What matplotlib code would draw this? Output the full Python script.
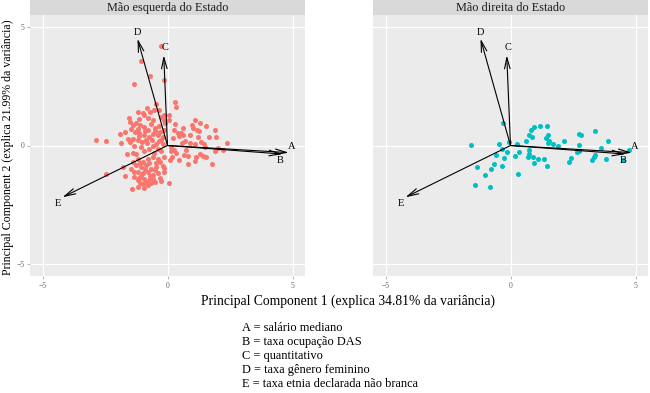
import matplotlib
matplotlib.use("Agg")
import matplotlib.pyplot as plt

plt.rcParams['font.family'] = ['Liberation Serif', 'DejaVu Serif']

# PC scores, left panel ("Mão esquerda do Estado")
esq_x = [-0.27, -1.06, -0.69, -1.33, -0.16, 0.31, 0.33, -2.87, -2.45, -1.9, -1.88, -2.45, -1.78,
         -1.69, -1.44, -1.2, 0.04,
         0.97, 1.1, 1.02, 1.16, 1.24, 1.54, 1.9, 1.94, 2.39, 2.23, 1.88, 1.76, 1.46, 1.33, 1.1, 0.89,
         0.59, 0.53, 0.4, 0.6, 0.27, 0.47, 0.73, 0.8, 0.64, 0.82, 1.12, 1.1, 1.3, 1.4, 1.49, 1.52,
         0.15, 0.13, 0.16,
         -1.56, -1.2, -0.84, -1.13, -0.93, -0.77, -0.6, -0.47, -0.33, -0.13, 0.04, 0.07, -0.16,
         -1.4, -1.09, -0.93, -0.77, -0.52, -0.33, -0.13, -1.29, -1.13, -0.96, -0.76, -0.6, -0.4,
         -0.27, -1.4, -1.6, -1.2, -1.02, -0.82, -0.64, -0.45, -0.2, -1.33, -1.06, -0.74, -0.4,
         -1.62, -1.4,
         -1.2, -1.0, -0.8, -0.6, -0.4, -0.13, -1.26, -1.06, -0.86, -0.66, -0.47, -0.2, -1.2, -1.0,
         -0.8, -0.6, -0.4, -0.13, -1.13, -0.93, -0.73, -0.5, -1.0, -0.8, -1.1, -1.33, -1.46, -1.4,
         -1.5, -1.25, -1.0, -0.7, -0.55, -0.25, -0.1, -1.45, -1.2, -0.65, -0.3, -0.2, -1.7, -0.9,
         -0.5, -1.15, -0.85, -0.35, -1.5, -0.6, -0.95, -0.25, -1.25, -0.55,
         -1.1, -0.75, -0.3, -0.9, -0.5, -1.05, -0.7, -0.3, -0.85, -0.65, -1.2, -0.95, -0.6, -0.15,
         -0.45, -1.35, -0.25, 0.1, 0.25, 0.2,
         0.3, 0.9, 0.7, 1.2, 0.35, 0.45, 1.3, 2.0, 1.65, 0.6]
esq_y = [4.18, 3.55, 2.92, 2.61, 2.75, 1.84, 1.63, 0.22, 0.17, 0.48, 0.11, -1.21, -0.9,
         -1.29, -1.82, -1.77, -1.56,
         0.88, 1.09, 0.72, 0.65, 0.62, 0.81, 0.67, 0.36, 0.11, -0.2, -0.24, -0.76, 0.06, 0.15, 0.06,
         0.11, 0.11, 0.53, 0.53, 0.43, 0.65, 0.39, -0.2, -0.43, -0.41, -0.76, -0.48, -0.67, -0.36,
         -0.45, -0.08, -0.5,
         -0.06, -0.25, -0.48,
         1.18, 1.42, 1.6, 1.11, 1.28, 1.18, 1.09, 1.74, 1.49, 1.28, 1.28, 1.07, 1.07,
         0.86, 0.88, 0.79, 0.67, 0.72, 0.81, 0.65, 0.58, 0.53, 0.43, 0.36, 0.48, 0.43,
         0.25, 0.29, 0.29, 0.22, 0.15, 0.11, 0.22, 0.06, 0.08, -0.01, -0.06, -0.13, -0.13,
         -0.34, -0.31,
         -0.59, -0.69, -0.59, -0.48, -0.59, -0.48, -0.83, -0.9, -0.83, -0.97, -0.9, -0.87, -1.11,
         -1.18, -1.11, -1.25, -1.18, -1.11, -1.39, -1.43, -1.46, -1.53, -1.64, -1.67, -1.57, -1.32,
         -0.97, -0.69,
         1.0, 0.95, 1.35, 1.4, 1.5, 1.2, 0.95, 0.7, 0.7, 0.9, 0.55, 0.35, 0.55, 0.6,
         0.62, 0.38, 0.25, 0.18, 0.15, 0.0, -0.25, -0.25, -0.35, -0.3,
         -0.75, -0.72, -0.7, -1.0, -1.05, -1.28, -1.3, -1.35, -1.55, -1.6, -1.45, -1.78, -1.4, -0.95,
         -0.75, -1.1, -1.5, -0.6, -0.2, 0.3,
         0.9, 0.45, 0.2, 0.35, -0.3, -0.6, 0.95, -0.1, 0.35, 0.75]

# PC scores, right panel ("Mão direita do Estado")
dir_x = [-1.57, -0.29, -0.47, -0.07, -0.35, -0.6, -0.16, -0.27, 0.27, 0.33, 0.17, 0.29, -1.33,
         -0.68, -0.78, -1.02, -0.36, -1.44, -0.81, 0.6, 0.73, 0.81, 0.94, 1.16, 1.44, 0.84, 1.4,
         1.49, 1.53, 1.48, 1.7, 1.9, 2.14, 0.73, 0.74, 0.69, 0.89, 1.1, 1.32, 0.94, 1.44, 2.33,
         2.43, 2.67, 2.73, 2.75, 2.8, 3.39, 3.9, 3.63, 3.39, 3.34, 3.26, 3.82, 2.73, 4.48, 4.72]
dir_y = [0.04, 0.93, 0.07, 0.14, -0.14, -0.42, -0.27, -0.52, 0.07, -0.28, -0.46, -1.19, -0.91,
         -0.77, -1.01, -1.26, -0.87, -1.67, -1.74, 0.2, 0.45, 0.67, 0.76, 0.84, 0.81, 0.36, 0.31,
         0.46, 0.2, 0.11, 0.06, -0.03, 0.17, -0.2, -0.34, -0.5, -0.49, -0.56, -0.56, -0.74, -0.87,
         -0.7, -0.52, -0.28, 0.01, 0.48, 0.43, 0.6, 0.18, -0.11, -0.41, -0.48, -0.62, -0.59, -0.24,
         -0.62, -0.2]

# loadings (arrow tips) and label positions
var_names = ['A', 'B', 'C', 'D', 'E']
load_x = [4.85, 4.6, -0.15, -1.2, -4.2]
load_y = [-0.3, -0.36, 3.8, 4.5, -2.18]
lab_x = [4.97, 4.5, -0.1, -1.2, -4.4]
lab_y = [-0.05, -0.62, 4.15, 4.78, -2.44]

panels = ['Mão esquerda do Estado', 'Mão direita do Estado']
colors = ['#F8766D', '#00BFC4']
legend_lines = ['A = salário mediano', 'B = taxa ocupação DAS', 'C = quantitativo',
                'D = taxa gênero feminino', 'E = taxa etnia declarada não branca']

W, H = 650, 393
fig = plt.figure(figsize=(W / 100, H / 100), dpi=100)


def px_axes(x0, y0, x1, y1):
    # pixel box (top-left origin) -> figure axes
    return fig.add_axes([x0 / W, 1 - y1 / H, (x1 - x0) / W, (y1 - y0) / H])


boxes = [(30, 305), (373, 648)]
for i, (title, col, xs, ys) in enumerate(zip(panels, colors, [esq_x, dir_x], [esq_y, dir_y])):
    x0, x1 = boxes[i]
    ax = px_axes(x0, 15, x1, 276)
    ax.set_facecolor('#EBEBEB')
    ax.set_xlim(-5.5, 5.5)
    ax.set_ylim(-5.5, 5.5)
    ax.set_xticks([-5, 0, 5])
    ax.set_yticks([-5, 0, 5])
    ax.grid(True, color='white', lw=0.9)
    ax.set_axisbelow(True)
    for s in ax.spines.values():
        s.set_visible(False)
    ax.tick_params(length=2, width=0.5, color='#999999', labelsize=5.5,
                   labelcolor='#666666', pad=2)
    if i == 1:
        ax.tick_params(axis='y', left=False, labelleft=False)
    ax.scatter(xs, ys, s=13, color=col, linewidths=0, zorder=3)
    for n, lx, ly, tx, ty in zip(var_names, load_x, load_y, lab_x, lab_y):
        ax.annotate('', xy=(lx, ly), xytext=(0, 0),
                    arrowprops=dict(arrowstyle='->,head_length=0.8,head_width=0.2',
                                    lw=0.8, color='black', shrinkA=0, shrinkB=0), zorder=4)
        ax.text(tx, ty, n, fontsize=7.5, ha='center', va='center', zorder=5)

    strip = px_axes(x0, 0, x1, 15)
    strip.set_facecolor('#D9D9D9')
    strip.set_xticks([])
    strip.set_yticks([])
    for s in strip.spines.values():
        s.set_visible(False)
    strip.text(0.5, 0.45, title, ha='center', va='center', fontsize=8.8, color='#1A1A1A',
               transform=strip.transAxes)

fig.text(348 / W, 1 - 301 / H, 'Principal Component 1 (explica 34.81% da variância)',
         ha='center', va='center', fontsize=9.8)
fig.text(8 / W, 1 - 147 / H, 'Principal Component 2 (explica 21.99% da variância)',
         ha='center', va='center', rotation=90, fontsize=8.6)

for k, line in enumerate(legend_lines):
    fig.text(242 / W, 1 - (328 + k * 14.0) / H, line, ha='left', va='center', fontsize=8.9)

fig.savefig('out.png', dpi=100)
